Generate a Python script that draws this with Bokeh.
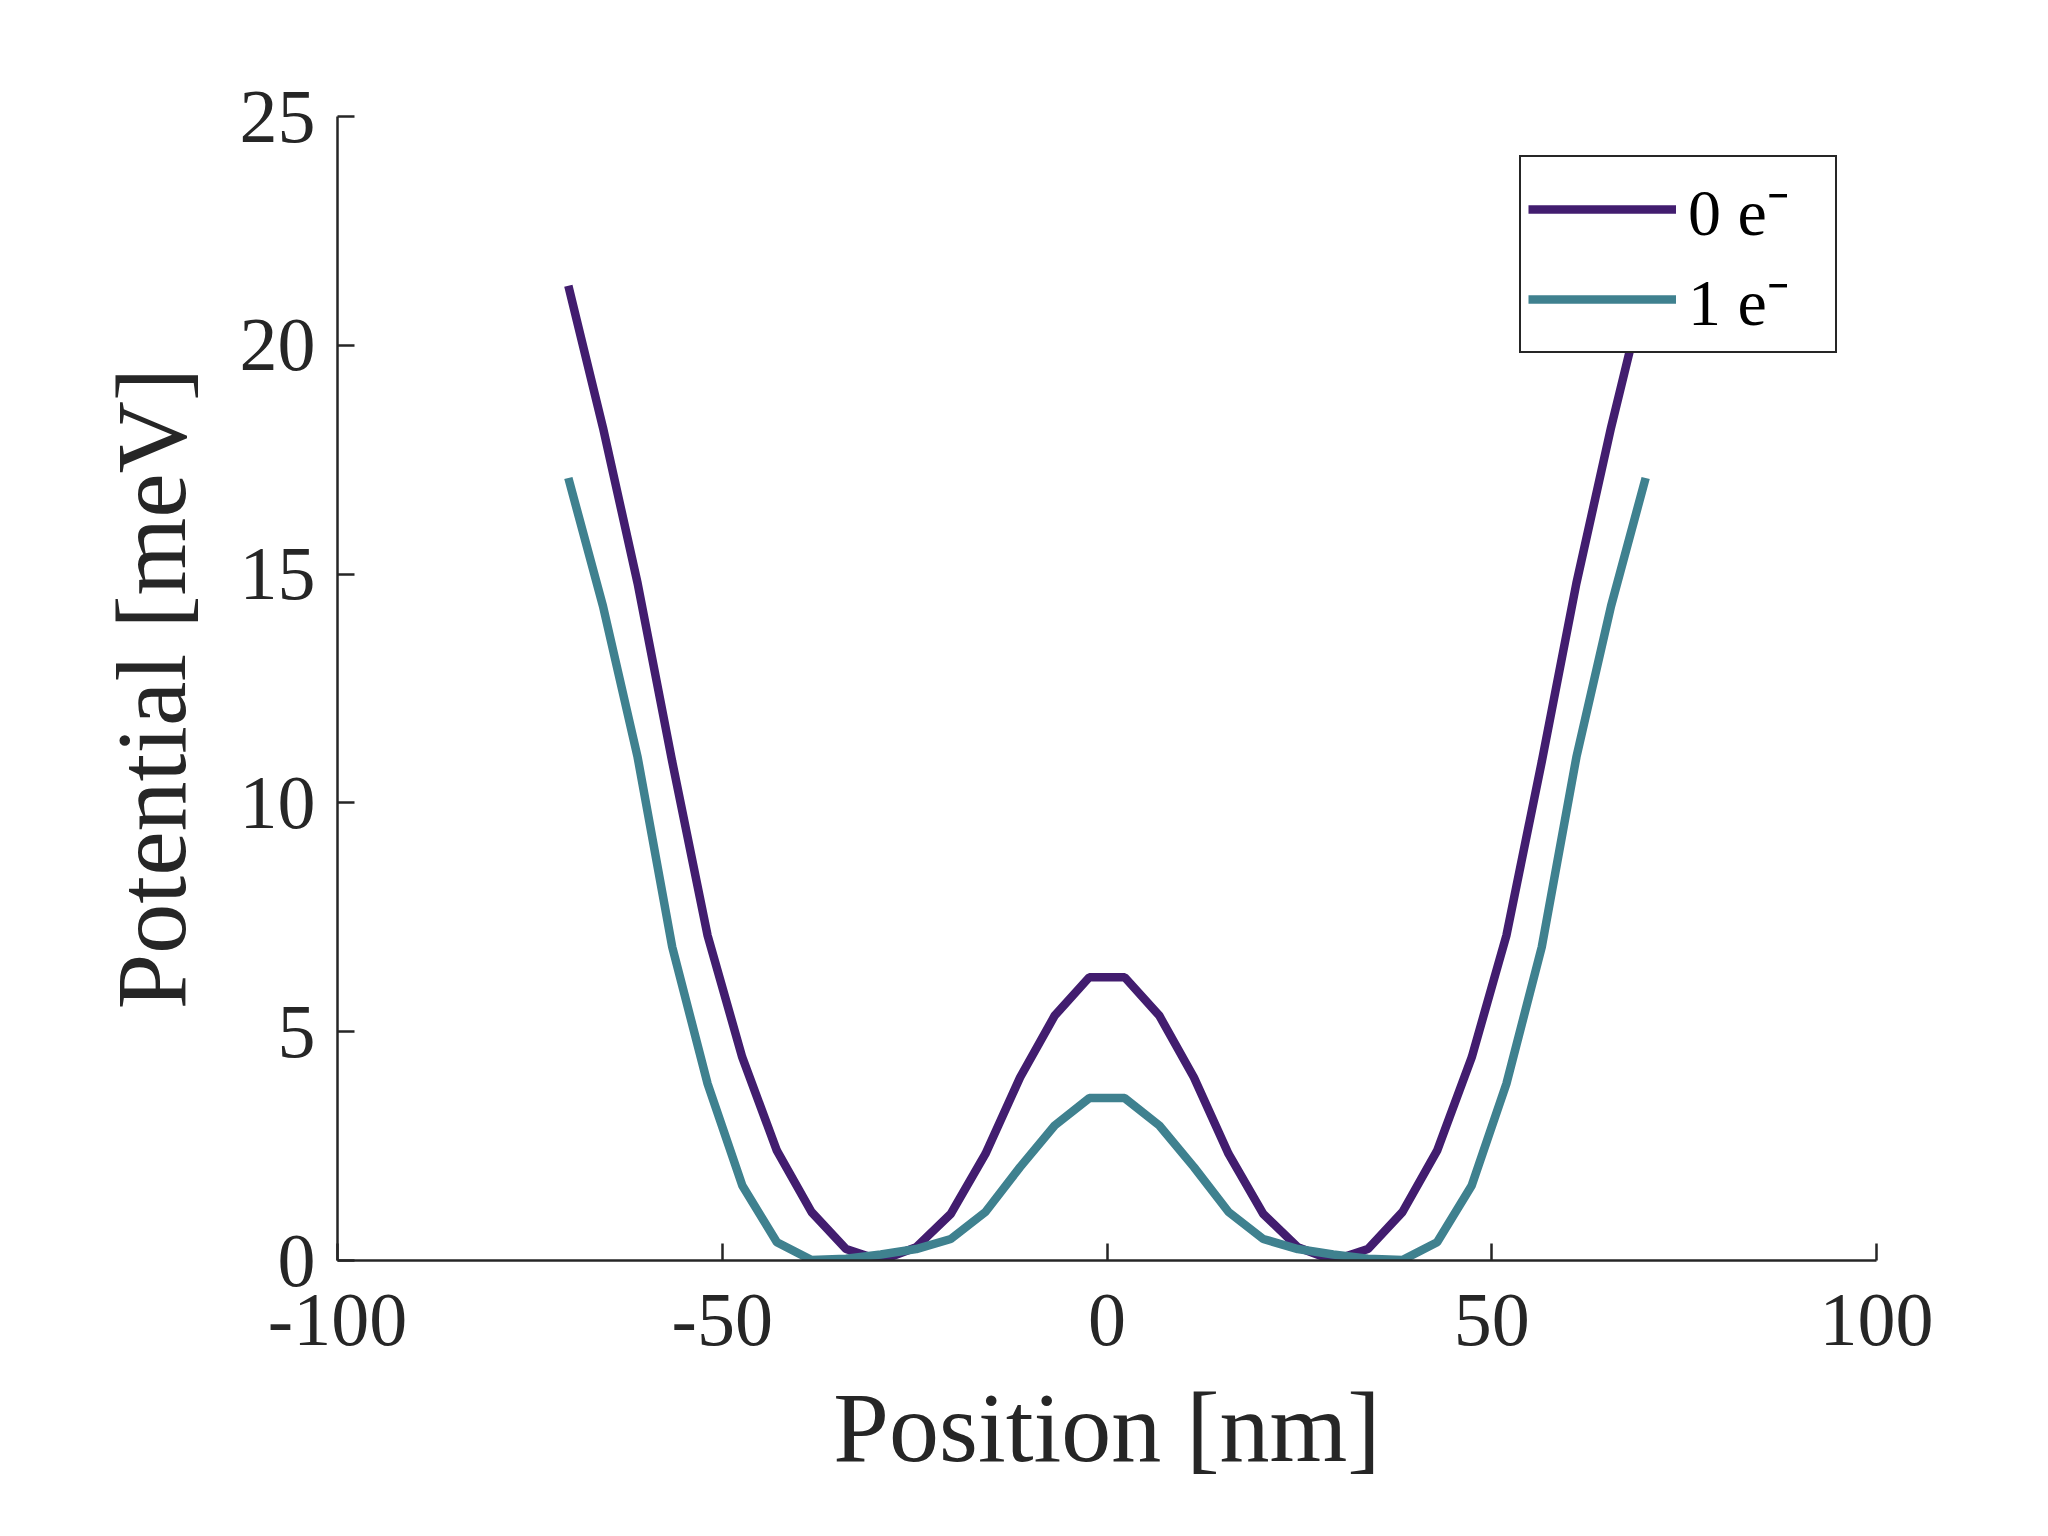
from bokeh.plotting import figure
from bokeh.models import Range1d, FixedTicker, Legend, LegendItem
from bokeh.embed import file_html
from bokeh.resources import INLINE

# Data
position_nm = [-70.0, -65.5, -61.0, -56.5, -51.9, -47.4, -42.9, -38.4,
               -33.9, -29.4, -24.8, -20.3, -15.8, -11.3, -6.8, -2.3,
               2.3, 6.8, 11.3, 15.8, 20.3, 24.8, 29.4, 33.9,
               38.4, 42.9, 47.4, 51.9, 56.5, 61.0, 65.5, 70.0]
potential_0e = [21.3, 18.2, 14.8, 10.9, 7.1, 4.44, 2.40, 1.06,
                0.25, 0.0, 0.29, 1.02, 2.33, 4.0, 5.35, 6.19,
                6.19, 5.35, 4.0, 2.33, 1.02, 0.29, 0.0, 0.25,
                1.06, 2.40, 4.44, 7.1, 10.9, 14.8, 18.2, 21.3]
potential_1e = [17.1, 14.3, 11.0, 6.85, 3.86, 1.64, 0.40, 0.01,
                0.04, 0.13, 0.25, 0.47, 1.06, 2.04, 2.95, 3.55,
                3.55, 2.95, 2.04, 1.06, 0.47, 0.25, 0.13, 0.04,
                0.01, 0.40, 1.64, 3.86, 6.85, 11.0, 14.3, 17.1]
series_labels = ["0 e\u207b", "1 e\u207b"]
x_ticks = [-100, -50, 0, 50, 100]
y_ticks = [0, 5, 10, 15, 20, 25]

FONT = "Liberation Serif"
TXT = "#262626"

p = figure(width=2032, height=1520,
           x_range=Range1d(-100, 100), y_range=Range1d(0, 25),
           output_backend="svg", toolbar_location=None,
           min_border_left=337, min_border_right=156,
           min_border_top=116, min_border_bottom=260)
p.outline_line_color = None
p.xgrid.visible = False
p.ygrid.visible = False
p.background_fill_color = "white"
p.border_fill_color = "white"

r0 = p.line(position_nm, potential_0e, line_color="#421d6f", line_width=8.5)
r1 = p.line(position_nm, potential_1e, line_color="#3f818f", line_width=8.5)

for ax, ticks in ((p.xaxis[0], x_ticks), (p.yaxis[0], y_ticks)):
    ax.ticker = FixedTicker(ticks=ticks)
    ax.major_label_overrides = {t: str(t) for t in ticks}
    ax.major_tick_in = 17
    ax.major_tick_out = 0
    ax.minor_tick_line_color = None
    ax.axis_line_width = 2.5
    ax.axis_line_color = TXT
    ax.major_tick_line_width = 2.5
    ax.major_tick_line_color = TXT
    ax.major_label_text_font = FONT
    ax.major_label_text_font_size = "76px"
    ax.major_label_text_color = TXT
    ax.axis_label_text_font = FONT
    ax.axis_label_text_font_size = "100px"
    ax.axis_label_text_font_style = "normal"
    ax.axis_label_text_color = TXT

p.xaxis.axis_label = "Position [nm]"
p.yaxis.axis_label = "Potential [meV]"
p.xaxis.major_label_standoff = 34
p.yaxis.major_label_standoff = 22
p.xaxis.axis_label_standoff = 24
p.yaxis.axis_label_standoff = 30
p.yaxis.major_label_orientation = "horizontal"

legend = Legend(items=[LegendItem(label=series_labels[0], renderers=[r0]),
                       LegendItem(label=series_labels[1], renderers=[r1])],
                location="top_right", margin=39, padding=7, spacing=0,
                glyph_width=148, glyph_height=88, label_height=88,
                label_width=140, label_standoff=12,
                label_text_font=FONT, label_text_font_size="66px",
                label_text_color="black",
                border_line_color=TXT, border_line_width=2.5,
                border_line_alpha=1.0,
                background_fill_color="white", background_fill_alpha=1.0)
p.add_layout(legend)

open("out.html", "w").write(file_html(p, INLINE))
